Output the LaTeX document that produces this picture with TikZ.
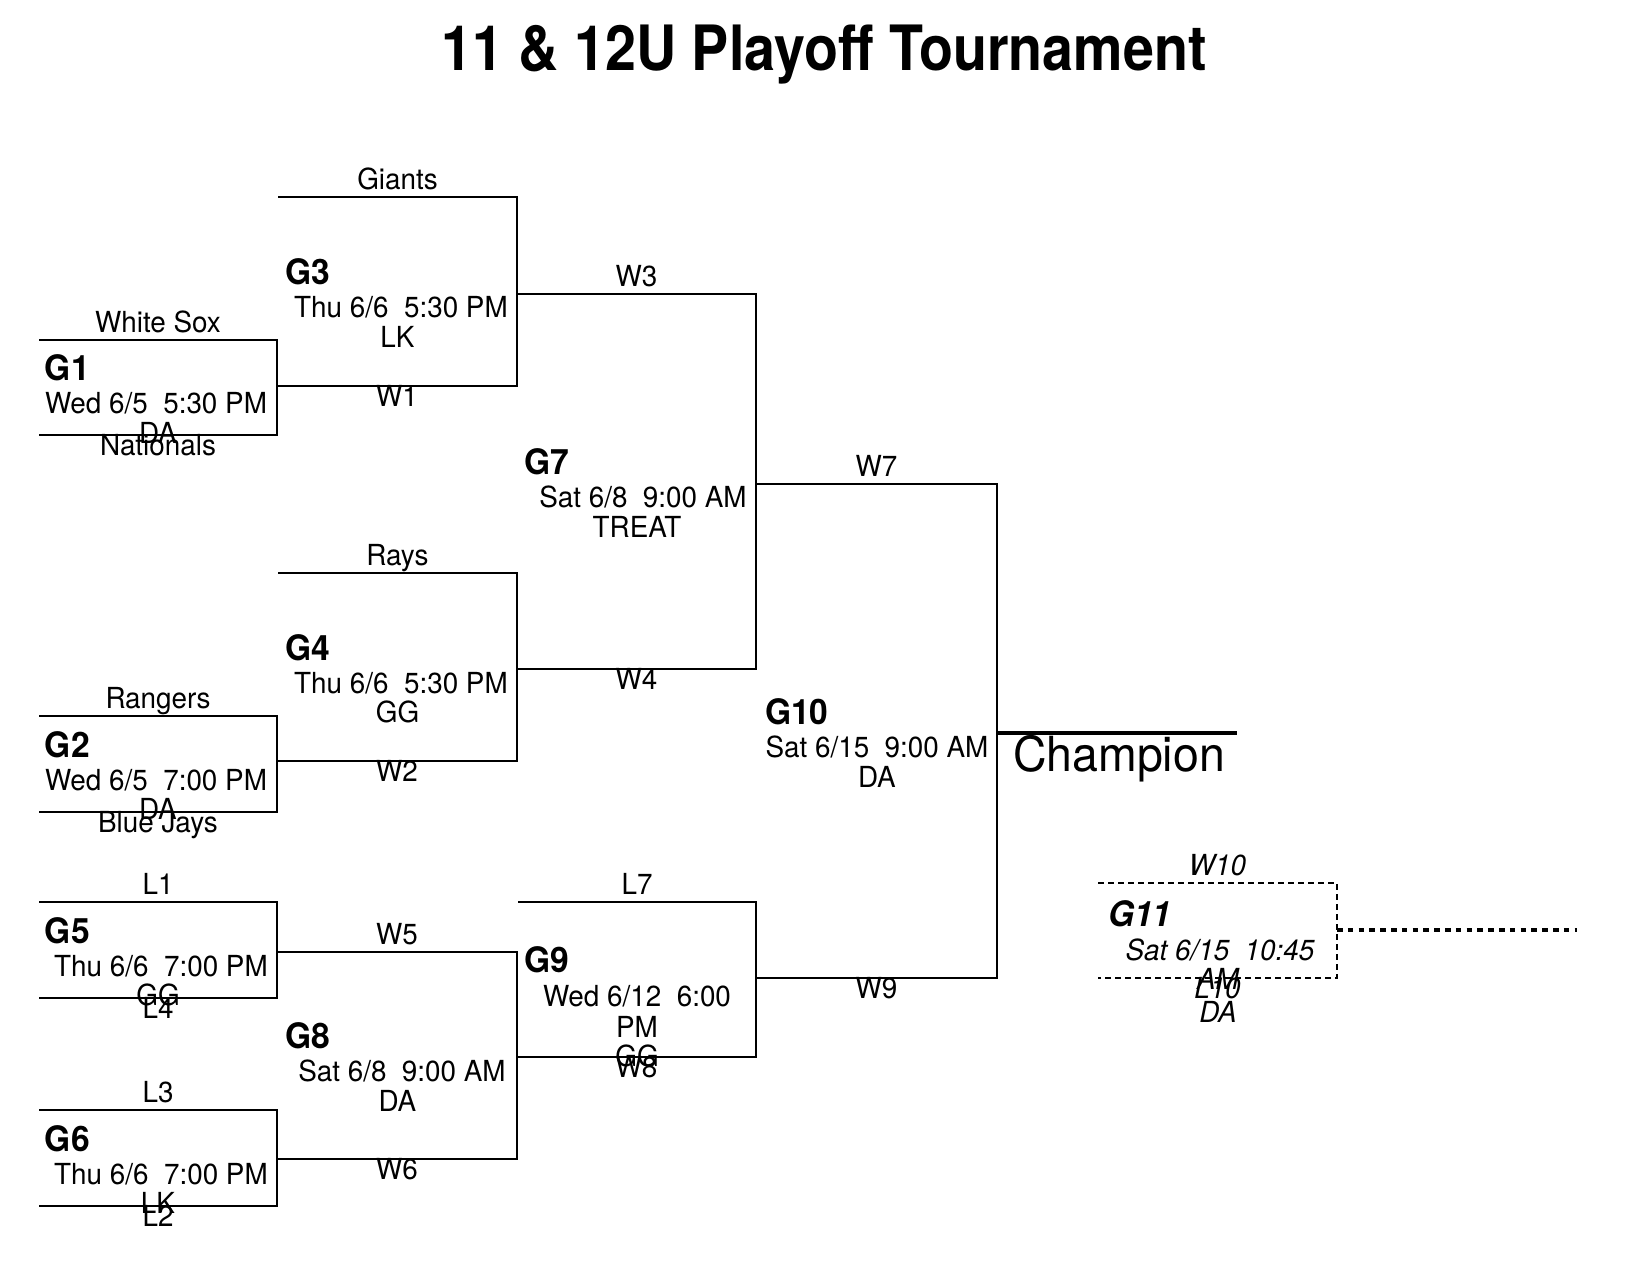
\documentclass[tikz,border=0pt]{standalone}
\usepackage{fontspec}
\setmainfont{TeX Gyre Heros}[FakeStretch=0.96]
\newfontfamily\titlefont{TeX Gyre Heros}[FakeStretch=0.89]
\usepackage{tikz}

\begin{document}
\begin{tikzpicture}[x=0.5pt, y=-0.5pt, line width=1pt,
    lbl/.style={font=\fontsize{14.5}{17}\selectfont, anchor=base, inner sep=0pt},
    toplbl/.style={lbl, midway, yshift=3.75pt},
    botlbl/.style={lbl, midway, yshift=-10pt},
    gname/.style={font=\bfseries\fontsize{17.5}{20}\selectfont, anchor=base west, inner sep=0pt},
    tbd/.style={dash pattern=on 3pt off 2pt, line width=0.75pt}]
    \useasboundingbox (0,0) rectangle (1640,1271);

    \node[font=\titlefont\bfseries\fontsize{31.25}{36}\selectfont, anchor=base] (title) at (824,70) {11 \& 12U Playoff Tournament};

    % first round
    \coordinate (g1nw) at (39,340);
    \coordinate (g1ne) at (277,340);
    \coordinate (g1se) at (277,435);
    \coordinate (g1sw) at (39,435);
    \draw (g1nw) -- node[toplbl] (g1up) {White Sox} (g1ne) -- (g1se) -- node[botlbl] (g1low) {Nationals} (g1sw);
    \node[gname] (g1) at (44,380.5) {G1};
    \node[lbl] (g1time) at (156,413.5) {Wed 6/5~~5:30 PM};
    \node[lbl] (g1site) at (158,443) {DA};

    \coordinate (g2nw) at (39,716);
    \coordinate (g2ne) at (277,716);
    \coordinate (g2se) at (277,812);
    \coordinate (g2sw) at (39,812);
    \draw (g2nw) -- node[toplbl] (g2up) {Rangers} (g2ne) -- (g2se) -- node[botlbl] (g2low) {Blue Jays} (g2sw);
    \node[gname] (g2) at (44,757) {G2};
    \node[lbl] (g2time) at (156,790) {Wed 6/5~~7:00 PM};
    \node[lbl] (g2site) at (158,819) {DA};

    \coordinate (g5nw) at (39,902);
    \coordinate (g5ne) at (277,902);
    \coordinate (g5se) at (277,998);
    \coordinate (g5sw) at (39,998);
    \draw (g5nw) -- node[toplbl] (g5up) {L1} (g5ne) -- (g5se) -- node[botlbl] (g5low) {L4} (g5sw);
    \node[gname] (g5) at (44,943) {G5};
    \node[lbl] (g5time) at (161,976) {Thu 6/6~~7:00 PM};
    \node[lbl] (g5site) at (158,1005) {GG};

    \coordinate (g6nw) at (39,1110);
    \coordinate (g6ne) at (277,1110);
    \coordinate (g6se) at (277,1206);
    \coordinate (g6sw) at (39,1206);
    \draw (g6nw) -- node[toplbl] (g6up) {L3} (g6ne) -- (g6se) -- node[botlbl] (g6low) {L2} (g6sw);
    \node[gname] (g6) at (44,1151) {G6};
    \node[lbl] (g6time) at (161,1184) {Thu 6/6~~7:00 PM};
    \node[lbl] (g6site) at (158,1213) {LK};

    % second round
    \coordinate (g3nw) at (278,197);
    \coordinate (g3ne) at (517,197);
    \coordinate (g3se) at (517,386);
    \draw (g3nw) -- node[toplbl] (g3up) {Giants} (g3ne) -- (g3se) -- node[botlbl] (g3low) {W1} (g1ne |- g3se);
    \node[gname] (g3) at (284,284) {G3};
    \node[lbl] (g3time) at (401,317.5) {Thu 6/6~~5:30 PM};
    \node[lbl] (g3site) at (397.5,347) {LK};

    \coordinate (g4nw) at (278,573);
    \coordinate (g4ne) at (517,573);
    \coordinate (g4se) at (517,761);
    \draw (g4nw) -- node[toplbl] (g4up) {Rays} (g4ne) -- (g4se) -- node[botlbl] (g4low) {W2} (g2ne |- g4se);
    \node[gname] (g4) at (284,660) {G4};
    \node[lbl] (g4time) at (401,693) {Thu 6/6~~5:30 PM};
    \node[lbl] (g4site) at (397.5,722) {GG};

    \coordinate (g8nw) at (277,952);
    \coordinate (g8ne) at (517,952);
    \coordinate (g8se) at (517,1159);
    \coordinate (g8sw) at (277,1159);
    \draw (g8nw) -- node[toplbl] (g8up) {W5} (g8ne) -- (g8se) -- node[botlbl] (g8low) {W6} (g8sw);
    \node[gname] (g8) at (284,1048.5) {G8};
    \node[lbl] (g8time) at (402,1081.5) {Sat 6/8~~9:00 AM};
    \node[lbl] (g8site) at (397.5,1111) {DA};

    % third round
    \coordinate (g7nw) at (517,294);
    \coordinate (g7ne) at (756,294);
    \coordinate (g7se) at (756,669);
    \coordinate (g7sw) at (517,669);
    \draw (g7nw) -- node[toplbl] (g7up) {W3} (g7ne) -- (g7se) -- node[botlbl] (g7low) {W4} (g7sw);
    \node[gname] (g7) at (523,474.5) {G7};
    \node[lbl] (g7time) at (643,507.5) {Sat 6/8~~9:00 AM};
    \node[lbl] (g7site) at (637,537) {TREAT};

    \coordinate (g9nw) at (518,902);
    \coordinate (g9ne) at (756,902);
    \coordinate (g9se) at (756,1057);
    \coordinate (g9sw) at (517,1057);
    \draw (g9nw) -- node[toplbl] (g9up) {L7} (g9ne) -- (g9se) -- node[botlbl] (g9low) {W8} (g9sw);
    \node[gname] (g9) at (523,972.5) {G9};
    \node[lbl] (g9time) at (637,1006) {Wed 6/12~~6:00};
    \node[lbl] (g9ampm) at (637,1037) {PM};
    \node[lbl] (g9site) at (637,1066) {GG};

    % final
    \coordinate (g10nw) at (756,484);
    \coordinate (g10ne) at (997,484);
    \coordinate (g10se) at (997,978);
    \coordinate (g10sw) at (756,978);
    \draw (g10nw) -- node[toplbl] (g10up) {W7} (g10ne) -- (g10se) -- node[botlbl] (g10low) {W9} (g10sw);
    \node[gname] (g10) at (764,724) {G10};
    \node[lbl] (g10time) at (877,757) {Sat 6/15~~9:00 AM};
    \node[lbl] (g10site) at (877,787) {DA};

    \coordinate (champ) at (1237,733);
    \draw[line width=2pt] (g10ne |- champ) -- (champ);
    \node[font=\fontsize{24.2}{28}\selectfont, anchor=base west, inner sep=0pt] (champlbl) at (1012,771.5) {Champion};

    % if needed
    \coordinate (g11nw) at (1098,883);
    \coordinate (g11ne) at (1337,883);
    \coordinate (g11se) at (1337,978);
    \coordinate (g11sw) at (1098,978);
    \coordinate (g11end) at (1577,929.5);
    \draw[tbd] (g11nw) -- node[toplbl, font=\itshape\fontsize{14.5}{17}\selectfont] (g11up) {W10} (g11ne) -- (g11se) -- node[botlbl, font=\itshape\fontsize{14.5}{17}\selectfont] (g11low) {L10} (g11sw);
    \draw[line width=2pt, dash pattern=on 2.8pt off 2.6pt] (g11ne |- g11end) -- (g11end);
    \node[gname, font=\bfseries\itshape\fontsize{17.5}{20}\selectfont] (g11) at (1107,926) {G11};
    \node[lbl, font=\itshape\fontsize{14.5}{17}\selectfont] (g11time) at (1220,960) {Sat 6/15~~10:45};
    \node[lbl, font=\itshape\fontsize{14.5}{17}\selectfont] (g11ampm) at (1218,989) {AM};
    \node[lbl, font=\itshape\fontsize{14.5}{17}\selectfont] (g11site) at (1218,1022) {DA};
\end{tikzpicture}
\end{document}
